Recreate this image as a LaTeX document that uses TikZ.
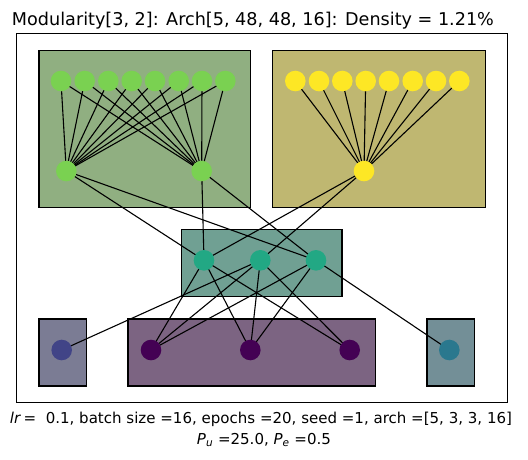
\documentclass[tikz,border=0pt]{standalone}
\usepackage{fontspec}
\setmainfont{DejaVu Sans}
\pgfdeclarelayer{bg}
\pgfsetlayers{bg,main}
\definecolor{gnode}{RGB}{122,209,81}
\definecolor{gbox}{RGB}{144,175,129}
\definecolor{ynode}{RGB}{253,231,37}
\definecolor{ybox}{RGB}{191,183,113}
\definecolor{tnode}{RGB}{34,168,132}
\definecolor{tbox}{RGB}{112,160,147}
\definecolor{bnode}{RGB}{65,68,135}
\definecolor{bbox}{RGB}{123,124,148}
\definecolor{pnode}{RGB}{68,1,84}
\definecolor{pbox}{RGB}{124,100,130}
\definecolor{rnode}{RGB}{42,120,142}
\definecolor{rbox}{RGB}{115,143,151}
\begin{document}
\begin{tikzpicture}[x=1pt,y=-1pt,
  nd/.style={circle,minimum size=20.6pt,inner sep=0pt,draw=none},
  edge/.style={black,line width=1.1pt},
  box/.style={draw=black,line width=1.1pt},
  txt/.style={anchor=base,inner sep=0pt}]
\useasboundingbox (0,0) rectangle (528,459);
% layer 1
\foreach \x [count=\i] in {61,84.7,108.3,131.7,155,178.7,202,225.3}
  \node[nd,fill=gnode] (g\i) at (\x,81) {};
\foreach \x [count=\i] in {295.3,319,342.3,365.7,389,412.7,436,459.3}
  \node[nd,fill=ynode] (y\i) at (\x,81) {};
% layer 2
\node[nd,fill=gnode] (gl) at (66.3,171) {};
\node[nd,fill=gnode] (gr) at (201.7,171) {};
\node[nd,fill=ynode] (yc) at (364,171) {};
% layer 3
\node[nd,fill=tnode] (t1) at (204,260.3) {};
\node[nd,fill=tnode] (t2) at (260.3,260.3) {};
\node[nd,fill=tnode] (t3) at (316,260.3) {};
% layer 4
\node[nd,fill=bnode] (b1) at (61.7,350) {};
\node[nd,fill=pnode] (p1) at (151,350) {};
\node[nd,fill=pnode] (p2) at (250.3,350) {};
\node[nd,fill=pnode] (p3) at (349.7,350) {};
\node[nd,fill=rnode] (r1) at (449.3,350) {};
% texts
\node[txt] (title) at (253,25)
  {\resizebox{482pt}{!}{\fontsize{18}{22}\selectfont Modularity[3, 2]: Arch[5, 48, 48, 16]: Density = 1.21\%}};
\node[txt] (info1) at (261,423.3)
  {\resizebox{502pt}{!}{\fontsize{15}{18}\selectfont \textit{lr}\,=\ \ 0.1, batch size =16, epochs =20, seed =1, arch =[5, 3, 3, 16]}};
\node[txt] (info2) at (264,444)
  {\resizebox{134pt}{!}{\fontsize{15}{18}\selectfont \textit{P}\textsubscript{\textit{u}} =25.0, \textit{P}\textsubscript{\textit{e}} =0.5}};
\begin{pgfonlayer}{bg}
\draw[line width=1pt] (16.3,33.3) rectangle (507,402.7);
\filldraw[box,fill=gbox] (39,50.7) rectangle (250.7,207.3);
\filldraw[box,fill=ybox] (272.7,50.7) rectangle (485.3,207.3);
\filldraw[box,fill=tbox] (181.3,229.3) rectangle (342,296.3);
\filldraw[box,fill=bbox] (39,319) rectangle (86.7,386);
\filldraw[box,fill=pbox] (128,319) rectangle (375.7,386);
\filldraw[box,fill=rbox] (427,319) rectangle (474.3,386);
\foreach \i in {1,...,8} {
  \draw[edge] (g\i.center) -- (gl.center);
  \draw[edge] (g\i.center) -- (gr.center);
  \draw[edge] (y\i.center) -- (yc.center);
}
\foreach \a/\b in {gl/t1,gl/t3,gr/t1,gr/t3,yc/t1,yc/t2,
  t1/p1,t1/p2,t1/p3,t2/b1,t2/p1,t2/p2,t2/p3,t3/p1,t3/p2,t3/r1}
  \draw[edge] (\a.center) -- (\b.center);
\end{pgfonlayer}
\end{tikzpicture}
\end{document}
